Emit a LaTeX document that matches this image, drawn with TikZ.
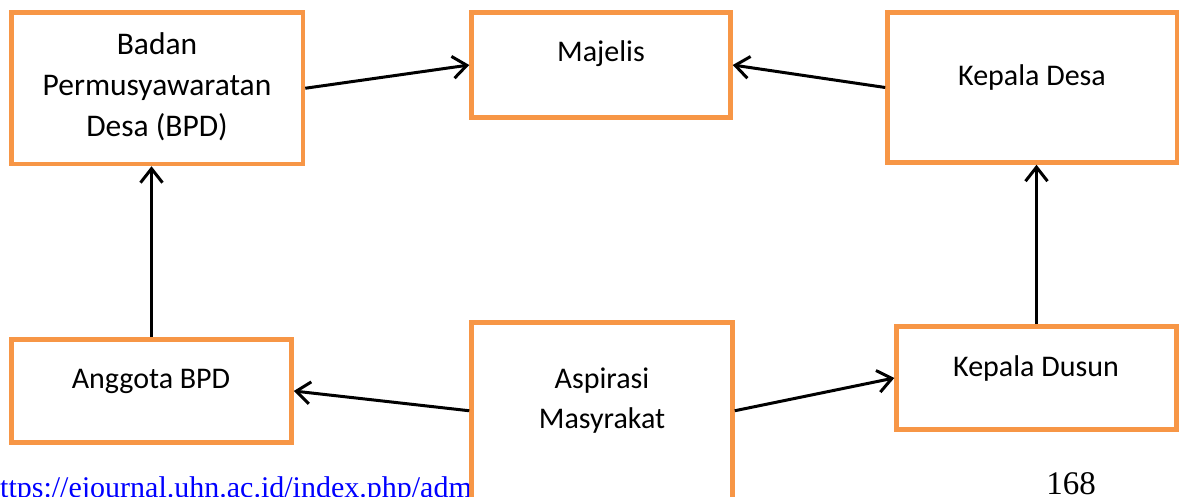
\documentclass[tikz,border=0pt]{standalone}
\usepackage{fontspec}
\setmainfont{Carlito}
\newfontfamily\serifkaki{Liberation Serif}
\usetikzlibrary{positioning}
\usetikzlibrary{arrows.meta}
\definecolor{oranye}{HTML}{F79646}
\definecolor{birutautan}{HTML}{0000FF}

\begin{document}
\begin{tikzpicture}[x=1pt,y=-1pt,
 kotak/.style={draw=oranye,line width=4.5pt,fill=white,inner sep=0pt},
 tulisan/.style={font=\fontsize{30}{40}\selectfont,anchor=base,inner sep=0pt,align=center},
 panah/.style={-{Straight Barb[length=14pt,width=22pt]},line width=3pt}]
 \useasboundingbox (0,0) rectangle (1179,497);
 \clip (0,0) rectangle (1179,497);
 % footer halaman
 \node[font=\serifkaki\fontsize{30}{36}\selectfont,text=birutautan,anchor=base west,inner sep=0pt] (tautan) at (0,497) {ttps://ejournal.uhn.ac.id/index.php/adm};
 \node[font=\serifkaki\fontsize{33}{36}\selectfont,anchor=base,inner sep=0pt] (halaman) at (1071,494) {168};
 % kotak-kotak
 \node[kotak,minimum width=291.5pt,minimum height=151.5pt] (bpd) at (157.25,88.25) {};
 \node[kotak,minimum width=259pt,minimum height=105pt] (majelis) at (601,65) {};
 \node[kotak,minimum width=289.5pt,minimum height=150pt] (kades) at (1032.25,87.5) {};
 \node[kotak,minimum width=280pt,minimum height=103pt] (anggota) at (151.5,391) {};
 \node[kotak,minimum width=261pt,minimum height=176.5pt] (aspirasi) at (602,410.75) {};
 \node[kotak,minimum width=280pt,minimum height=103pt] (kadus) at (1036.5,378) {};
 % isi kotak (base = garis dasar baris terakhir)
 \node[tulisan,font=\fontsize{31.5}{41}\selectfont] (t-bpd) at (157,137) {Badan\\Permusyawaratan\\Desa (BPD)};
 \node[tulisan] (t-majelis) at (601,62) {Majelis};
 \node[tulisan] (t-kades) at (1032,86) {Kepala Desa};
 \node[tulisan] (t-anggota) at (151,388) {Anggota BPD};
 \node[tulisan] (t-aspirasi) at (602,428) {Aspirasi\\Masyrakat};
 \node[tulisan] (t-kadus) at (1036,376) {Kepala Dusun};
 % panah
 \draw[panah] (bpd.east) -- (majelis.west);
 \draw[panah] (kades.west) -- (majelis.east);
 \draw[panah] (anggota.north) -- (anggota.north |- bpd.south);
 \draw[panah] (kadus.north) -- (kadus.north |- kades.south);
 \draw[panah] (aspirasi.west) -- (anggota.east);
 \draw[panah] (aspirasi.east) -- (kadus.west);
\end{tikzpicture}
\end{document}
